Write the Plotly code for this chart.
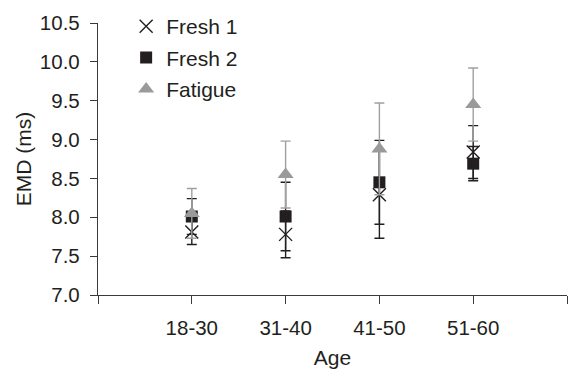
import plotly.graph_objects as go

categories = ["18-30", "31-40", "41-50", "51-60"]
x_pos = [0, 1, 2, 3]

fresh1 = [7.81, 7.78, 8.29, 8.84]
fresh1_err = [0.16, 0.30, 0.56, 0.34]
fresh2 = [8.01, 8.01, 8.45, 8.69]
fresh2_err = [0.23, 0.44, 0.54, 0.22]
fatigue = [8.05, 8.55, 8.88, 9.45]
fatigue_err = [0.32, 0.43, 0.59, 0.47]

y_ticks = [7.0, 7.5, 8.0, 8.5, 9.0, 9.5, 10.0, 10.5]

FONT = "Liberation Sans, Arial, sans-serif"
TXT = "#231f20"
AX = "#3a3a3a"

fig = go.Figure()
fig.add_trace(go.Scatter(
    x=x_pos, y=fresh1, mode="markers", name="Fresh 1", legendgroup="a",
    marker=dict(symbol="x-thin-open", size=13, color="#231f20",
                line=dict(width=1.4, color="#231f20")),
    error_y=dict(type="data", array=fresh1_err, visible=True,
                 color="#231f20", thickness=1.4, width=5),
))
fig.add_trace(go.Scatter(
    x=x_pos, y=fresh2, mode="markers", name="Fresh 2", legendgroup="b",
    marker=dict(symbol="square", size=12, color="#231f20"),
    error_y=dict(type="data", array=fresh2_err, visible=True,
                 color="#231f20", thickness=1.4, width=5),
))
fig.add_trace(go.Scatter(
    x=x_pos, y=fatigue, mode="markers", name="Fatigue", legendgroup="c",
    marker=dict(symbol="triangle-up", size=14, color="#9a9a9a"),
    error_y=dict(type="data", array=fatigue_err, visible=True,
                 color="#a0a0a0", thickness=1.4, width=5),
))

fig.update_layout(
    width=573, height=370,
    margin=dict(l=98, r=6, t=23, b=74.5, autoexpand=False),
    paper_bgcolor="white", plot_bgcolor="white",
    font=dict(family=FONT, size=20.5, color=TXT),
    showlegend=True,
    legend=dict(x=0.06, y=1.062, xanchor="left", yanchor="top",
                bgcolor="rgba(0,0,0,0)", tracegroupgap=1,
                font=dict(family=FONT, size=21, color=TXT)),
    xaxis=dict(
        range=[-1, 4], tickmode="array", tickvals=[-1, 0, 1, 2, 3, 4],
        ticktext=[""] + categories + [""], automargin=False,
        showgrid=False, zeroline=False, showline=True, linecolor=AX, linewidth=1.3,
        ticks="outside", ticklen=8, tickwidth=1.3, tickcolor=AX,
        title=dict(text="Age", font=dict(family=FONT, size=21, color=TXT), standoff=12),
        tickfont=dict(family=FONT, size=20.5, color=TXT),
        ticklabelstandoff=6,
    ),
    yaxis=dict(
        range=[7.0, 10.5], tickmode="array", tickvals=y_ticks,
        ticktext=[f"{v:.1f}" for v in y_ticks], automargin=False,
        showgrid=False, zeroline=False, showline=True, linecolor=AX, linewidth=1.3,
        ticks="outside", ticklen=7, tickwidth=1.3, tickcolor=AX,
        title=dict(text="EMD (ms)", font=dict(family=FONT, size=21, color=TXT), standoff=2),
        tickfont=dict(family=FONT, size=20.5, color=TXT),
        ticklabelstandoff=6,
    ),
)

fig.write_html("out.html", config={"displayModeBar": False},
               post_script="document.body.style.margin='0';")
